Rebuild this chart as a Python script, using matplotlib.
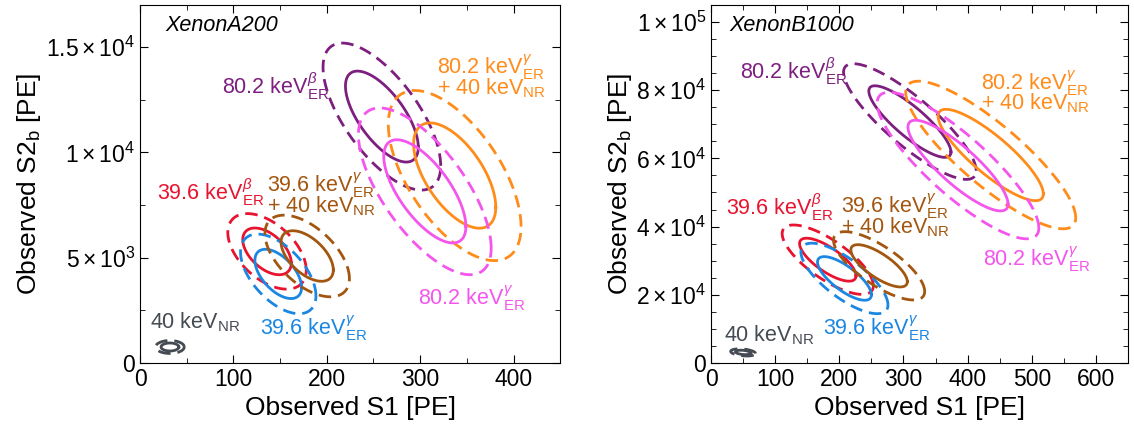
import numpy as np
import matplotlib
matplotlib.use('Agg')
import matplotlib.pyplot as plt
from matplotlib.ticker import MultipleLocator, FixedLocator

plt.rcParams['font.family'] = ['Liberation Sans', 'DejaVu Sans']
plt.rcParams['mathtext.fontset'] = 'custom'
plt.rcParams['mathtext.rm'] = 'Liberation Sans'
plt.rcParams['mathtext.it'] = 'Liberation Sans:italic'
plt.rcParams['mathtext.bf'] = 'Liberation Sans:bold'

# species order: 80.2 beta, 80.2 gamma+NR, 80.2 gamma, 39.6 beta, 39.6 gamma, 39.6 gamma+NR, 40 NR
colors = ['#7d1f7e', '#ff8c1a', '#f455ec', '#e8132e', '#1b87e3', '#a3560f', '#454b52']

# XenonA200: centres and half extents of the inner (68%) contour
a_cx = [259, 337, 305, 136, 148, 179, 32]
a_cy = [11700, 8900, 8150, 5300, 4230, 5080, 760]
a_hx = [39, 44, 44, 26, 25, 28, 9.5]
a_hy = [2160, 2500, 2450, 1110, 1170, 1200, 190]
a_rho = [-0.67, -0.6, -0.68, -0.5, -0.55, -0.55, 0.0]

# XenonB1000
b_cx = [310, 436, 385, 182, 208, 262, 50]
b_cy = [70800, 61000, 57900, 30300, 24800, 28500, 3100]
b_hx = [64, 82, 78, 44, 42, 44, 12]
b_hy = [10500, 13400, 13300, 6300, 6400, 6200, 650]
b_rho = [-0.85, -0.85, -0.85, -0.75, -0.75, -0.75, -0.3]

labels = [r'80.2 keV$^{\mathit{\beta}}_{\mathrm{ER}}$',
          r'80.2 keV$^{\mathit{\gamma}}_{\mathrm{ER}}$' + '\n' + r'+ 40 keV$_{\mathrm{NR}}$',
          r'80.2 keV$^{\mathit{\gamma}}_{\mathrm{ER}}$',
          r'39.6 keV$^{\mathit{\beta}}_{\mathrm{ER}}$',
          r'39.6 keV$^{\mathit{\gamma}}_{\mathrm{ER}}$',
          r'39.6 keV$^{\mathit{\gamma}}_{\mathrm{ER}}$' + '\n' + r'+ 40 keV$_{\mathrm{NR}}$',
          r'40 keV$_{\mathrm{NR}}$']
a_lx = [88, 318, 298, 18, 128, 136, 11]
a_ly = [12760, 13714, 2770, 7750, 1330, 8125, 1640]
b_lx = [45, 421, 424, 23, 175, 202, 21]
b_ly = [83400, 80200, 28300, 43400, 8300, 43900, 6340]

ratio = 2.448 / 1.515  # 95% contour vs 68% contour


def ellipse(cx, cy, hx, hy, rho, k):
    t = np.linspace(0, 2 * np.pi, 300)
    x = cx + k * hx * np.cos(t)
    y = cy + k * hy * (rho * np.cos(t) + np.sqrt(1 - rho ** 2) * np.sin(t))
    return x, y


def panel(ax, cx, cy, hx, hy, rho, lx, ly):
    for i in range(len(cx)):
        x, y = ellipse(cx[i], cy[i], hx[i], hy[i], rho[i], 1.0)
        ax.plot(x, y, color=colors[i], lw=2.0)
        x, y = ellipse(cx[i], cy[i], hx[i], hy[i], rho[i], ratio)
        ax.plot(x, y, color=colors[i], lw=2.0, dashes=(4.5, 2.5))
        for j, line in enumerate(labels[i].split('\n')):
            ax.annotate(line, (lx[i], ly[i]), xytext=(0, -14.5 * j),
                        textcoords='offset points', color=colors[i],
                        fontsize=15.5, ha='left', va='baseline')
    ax.tick_params(which='both', direction='in', top=True, right=True, labelsize=16.5)
    ax.tick_params(which='major', length=6)
    ax.tick_params(which='minor', length=3.5)
    ax.set_xlabel('Observed S1 [PE]', fontsize=19)
    ax.set_ylabel(r'Observed S2$_\mathrm{b}$ [PE]', fontsize=19, labelpad=2)


fig = plt.figure(figsize=(11.34, 4.34), dpi=100)
ax1 = fig.add_axes([0.1235, 0.1636, 0.3705, 0.825])
ax2 = fig.add_axes([0.627, 0.1636, 0.3677, 0.825])

panel(ax1, a_cx, a_cy, a_hx, a_hy, a_rho, a_lx, a_ly)
ax1.set_xlim(0, 450)
ax1.set_ylim(0, 17000)
ax1.xaxis.set_major_locator(MultipleLocator(100))
ax1.xaxis.set_minor_locator(MultipleLocator(50))
ax1.yaxis.set_major_locator(FixedLocator([0, 5000, 10000, 15000]))
ax1.yaxis.set_minor_locator(MultipleLocator(2500))
ax1.set_yticklabels(['0', r'$5\times10^3$', r'$1\times10^4$', r'$1.5\times10^4$'])
ax1.text(27, 15780, 'XenonA200', fontsize=15.5, style='italic', ha='left', va='baseline')

panel(ax2, b_cx, b_cy, b_hx, b_hy, b_rho, b_lx, b_ly)
ax2.set_xlim(0, 650)
ax2.set_ylim(0, 105000)
ax2.xaxis.set_major_locator(MultipleLocator(100))
ax2.xaxis.set_minor_locator(MultipleLocator(50))
ax2.yaxis.set_major_locator(FixedLocator([0, 20000, 40000, 60000, 80000, 100000]))
ax2.yaxis.set_minor_locator(MultipleLocator(5000))
ax2.set_yticklabels(['0', r'$2\times10^4$', r'$4\times10^4$', r'$6\times10^4$',
                     r'$8\times10^4$', r'$1\times10^5$'])
ax2.text(28, 97400, 'XenonB1000', fontsize=15.5, style='italic', ha='left', va='baseline')

fig.savefig('out.png', dpi=100)
